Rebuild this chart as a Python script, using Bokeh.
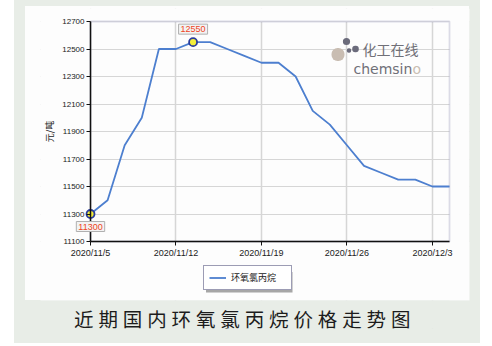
import math
from bokeh.plotting import figure
from bokeh.models import FixedTicker, Label, BoxAnnotation, Legend, LegendItem, ColumnDataSource
from bokeh.embed import file_html
from bokeh.resources import INLINE

# ---- data ----
dates = ["11/5", "11/6", "11/9", "11/10", "11/11", "11/12", "11/13", "11/16", "11/17",
         "11/18", "11/19", "11/20", "11/23", "11/24", "11/25", "11/26", "11/27", "11/30",
         "12/1", "12/2", "12/3", "12/4"]
prices = [11300, 11400, 11800, 12000, 12500, 12500, 12550, 12550, 12500,
          12450, 12400, 12400, 12300, 12050, 11950, 11800, 11650, 11600,
          11550, 11550, 11500, 11500]
series_name = "环氧氯丙烷"
y_ticks = [11100, 11300, 11500, 11700, 11900, 12100, 12300, 12500, 12700]
x_tick_idx = [0, 5, 10, 15, 20]
x_tick_labels = ["2020/11/5", "2020/11/12", "2020/11/19", "2020/11/26", "2020/12/3"]
y_label = "元/吨"
title_text = "近期国内环氧氯丙烷价格走势图"

W, H = 492, 346
CJK = "Noto Sans CJK SC"
LAT = "Liberation Sans"
PANEL = "#fdfdfd"
SURROUND = "#e8ede7"

# layout (pixels): the drawing frame is larger than the axes box so that tick labels,
# value labels, legend and caption are not clipped; the axes are pinned to the box
AX_L, AX_R, AX_T, AX_B = 90, 449, 21, 241
FR_L, FR_R, FR_T, FR_B = 40, 469, 8, 328
n_last = len(dates) - 1
x_ppu = (AX_R - AX_L) / n_last
y_lo, y_hi = y_ticks[0], y_ticks[-1]
y_ppu = (AX_B - AX_T) / (y_hi - y_lo)
x_range = (-(AX_L - FR_L) / x_ppu, n_last + (FR_R - AX_R) / x_ppu)
y_range = (y_lo - (FR_B - AX_B) / y_ppu, y_hi + (AX_T - FR_T) / y_ppu)

src = ColumnDataSource(dict(i=list(range(len(dates))), price=prices, date=dates))

p = figure(frame_width=FR_R - FR_L, frame_height=FR_B - FR_T,
           output_backend="svg", toolbar_location=None, title=None,
           x_range=x_range, y_range=y_range,
           min_border_left=FR_L, min_border_right=W - FR_R, min_border_top=FR_T,
           min_border_bottom=H - FR_B)
p.border_fill_alpha = 0
p.background_fill_alpha = 0
p.outline_line_color = None
p.styles = {
    "background": (f"linear-gradient({PANEL},{PANEL}) 25px 6px / 444px 294px no-repeat, "
                   f"linear-gradient({SURROUND},{SURROUND}) 14px 0px / 466px 343px no-repeat, white")
}

# axes
p.xaxis.ticker = FixedTicker(ticks=x_tick_idx)
p.xaxis.major_label_overrides = {i: s for i, s in zip(x_tick_idx, x_tick_labels)}
p.xaxis.bounds = (0, n_last)
p.xaxis.fixed_location = y_lo
p.yaxis.ticker = FixedTicker(ticks=y_ticks)
p.yaxis.fixed_location = 0
p.yaxis.bounds = (y_lo, y_hi)
for ax in (p.xaxis, p.yaxis):
    ax.axis_line_color = "#111111"
    ax.axis_line_width = 1.5
    ax.major_tick_line_color = "#111111"
    ax.major_tick_out = 4
    ax.major_tick_in = 0
    ax.minor_tick_line_color = None
    ax.major_label_text_font = LAT
    ax.major_label_text_color = "#222222"
    ax.major_label_standoff = 2
p.xaxis.major_label_text_font_size = "9px"
p.yaxis.major_label_text_font_size = "8px"

p.xgrid.ticker = FixedTicker(ticks=x_tick_idx)
p.ygrid.ticker = FixedTicker(ticks=y_ticks)
p.xgrid.grid_line_color = "#d6d6d6"
p.xgrid.grid_line_width = 1.5
p.ygrid.grid_line_color = "#d6d6d6"
p.ygrid.grid_line_width = 1.2

# mask grid outside the axes box, then draw the top/right border of the box
BA = dict(fill_alpha=1, line_color=None, level="underlay")
p.add_layout(BoxAnnotation(right=0, bottom=300, bottom_units="canvas", fill_color=PANEL, **BA))
p.add_layout(BoxAnnotation(left=n_last, bottom=300, bottom_units="canvas", fill_color=PANEL, **BA))
p.add_layout(BoxAnnotation(bottom=y_hi, fill_color=PANEL, **BA))
p.add_layout(BoxAnnotation(top=y_lo, bottom=300, bottom_units="canvas", fill_color=PANEL, **BA))
p.add_layout(BoxAnnotation(top=300, top_units="canvas", fill_color=SURROUND, **BA))
p.add_layout(BoxAnnotation(left=0, right=n_last, bottom=y_lo, top=y_hi,
                           fill_alpha=0, line_color="#9090b4", line_width=1.8, level="underlay"))

# y axis title
p.add_layout(Label(x=49, y=131, x_units="canvas", y_units="canvas", text=y_label, angle=math.pi / 2,
                   text_font=CJK, text_font_size="9px", text_color="#222222",
                   text_align="center", text_baseline="middle"))

# watermark logo (canvas units, y downwards)
def circ(cx, cyy, r, color):
    p.add_layout(BoxAnnotation(left=cx - r, right=cx + r, top=cyy - r, bottom=cyy + r,
                               left_units="canvas", right_units="canvas", top_units="canvas", bottom_units="canvas",
                               fill_color=color, fill_alpha=1, line_color=None, border_radius=int(round(r)),
                               level="underlay"))
circ(337.5, 54, 6.5, "#c9bdb2")
circ(346, 41, 3.6, "#6b6b7b")
circ(355, 48.5, 3.3, "#6b6b7b")
circ(348.5, 50, 2.2, "#6b6b7b")
p.add_layout(Label(x=362, y=48.7, x_units="canvas", y_units="canvas", text="化工在线",
                   text_font=CJK, text_font_size="14px", text_color="#707078",
                   text_align="left", text_baseline="middle"))
p.add_layout(Label(x=353, y=68.7, x_units="canvas", y_units="canvas", text="chemsin",
                   text_font="DejaVu Sans", text_font_size="14px", text_color="#707078",
                   text_align="left", text_baseline="alphabetic"))
p.add_layout(Label(x=412, y=68.7, x_units="canvas", y_units="canvas", text="o",
                   text_font="DejaVu Sans", text_font_size="14px", text_color="#c9bdb2",
                   text_align="left", text_baseline="alphabetic"))

# series
r = p.line(x="i", y="price", source=src, line_color="#4d7fcf", line_width=1.8)
i_min = prices.index(min(prices))
i_max = prices.index(max(prices))
p.scatter(x=[i_min, i_max], y=[prices[i_min], prices[i_max]], size=8,
          fill_color="#f4ee3a", line_color="#2a3c9c", line_width=1.8)
p.add_layout(Label(x=i_max, y=prices[i_max], text=str(prices[i_max]), y_offset=8,
                   text_align="center", text_baseline="bottom", text_font=LAT,
                   text_font_size="9px", text_color="#ee4422",
                   background_fill_color="#f3f3f3", border_line_color="#b0b0b0", padding=2))
p.add_layout(Label(x=i_min, y=prices[i_min], text=str(prices[i_min]), y_offset=-7.5,
                   text_align="center", text_baseline="top", text_font=LAT,
                   text_font_size="9px", text_color="#ee4422",
                   background_fill_color="#f3f3f3", border_line_color="#b0b0b0", padding=2))

# legend with shadow
p.add_layout(BoxAnnotation(left=205.5, right=292, top=271.5, bottom=292,
                           left_units="canvas", right_units="canvas", top_units="canvas", bottom_units="canvas",
                           fill_color="#808080", fill_alpha=0.7, line_color=None, level="underlay"))
legend = Legend(items=[LegendItem(label=series_name, renderers=[r])],
                location=(203 - FR_L, FR_B - 290))
legend.margin = 0
legend.padding = 5
legend.glyph_width = 17
legend.glyph_height = 11
legend.label_height = 11
legend.label_standoff = 5
legend.label_width = 55
legend.label_text_font = CJK
legend.label_text_font_size = "9px"
legend.label_text_color = "#222222"
legend.border_line_color = "#3a3a6a"
legend.border_line_width = 1.5
legend.background_fill_color = "white"
legend.background_fill_alpha = 1
p.add_layout(legend)

# bottom caption
p.add_layout(Label(x=241.7, y=318, x_units="canvas", y_units="canvas",
                   text="\u2005".join(title_text), text_font=CJK, text_font_size="19.5px",
                   text_color="#1c1c1c", text_align="center", text_baseline="middle"))

open("out.html", "w").write(file_html(p, INLINE))
